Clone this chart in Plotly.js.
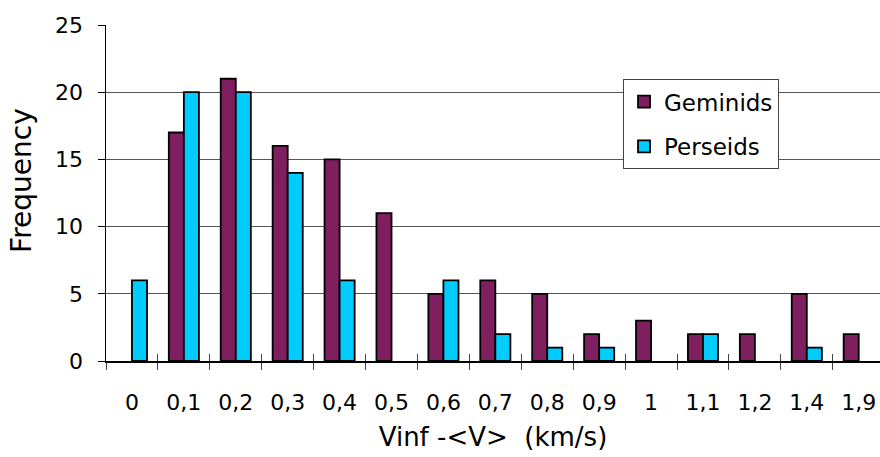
<!DOCTYPE html>
<html>
<head>
<meta charset="utf-8">
<script src="https://cdn.plot.ly/plotly-3.0.1.min.js"></script>
<style>html,body{margin:0;padding:0;background:#fff;}#chart{width:880px;height:457px;}</style>
</head>
<body>
<div id="chart"></div>
<script>
const categories = ['0','0,1','0,2','0,3','0,4','0,5','0,6','0,7','0,8','0,9','1','1,1','1,2','1,4','1,9'];
const geminids = [0,17,21,16,15,11,5,6,5,2,3,2,2,5,2];
const perseids = [6,20,20,14,6,0,6,2,1,1,0,2,0,1,0];
const seriesNames = ['Geminids','Perseids'];
const yTicks = [0,5,10,15,20,25];
const xTitle = 'Vinf -&lt;V&gt;\u00A0 (km/s)';
const yTitle = 'Frequency';

const fontFam = 'DejaVu Sans, Verdana, sans-serif';
// zero counts are not drawn as bars (no outline line on the axis)
const hideZero = v => v.map(d => d === 0 ? null : d);
const traces = [
  {type:'bar', x:categories, y:hideZero(geminids), name:seriesNames[0], legendgroup:'g',
   marker:{color:'#7F1F5F', line:{color:'#000', width:1.8}}},
  {type:'bar', x:categories, y:hideZero(perseids), name:seriesNames[1], legendgroup:'p',
   marker:{color:'#00CCFF', line:{color:'#000', width:1.8}}},
  {type:'bar', x:categories, y:categories.map(()=>null), xaxis:'x2', showlegend:false, hoverinfo:'skip'}
];
const layout = {
  width:880, height:457,
  margin:{l:106, r:0, t:25, b:96},
  paper_bgcolor:'#fff', plot_bgcolor:'#fff',
  font:{family:fontFam, color:'#000', size:22},
  barmode:'group', bargap:0.42, bargroupgap:0,
  showlegend:true,
  legend:{x:0.668, y:0.839, xanchor:'left', yanchor:'top', bgcolor:'#fff',
    bordercolor:'#444', borderwidth:1, font:{size:23, family:fontFam},
    tracegroupgap:12, traceorder:'grouped'},
  xaxis:{type:'category', categoryarray:categories, categoryorder:'array',
    range:[-0.5,14.41], showline:true, linecolor:'#000', linewidth:1.5,
    ticks:'outside', tickson:'boundaries', ticklen:7, tickcolor:'#444', tickwidth:1,
    tickfont:{size:22}, ticklabelstandoff:21, showgrid:false, zeroline:false,
    title:{text:xTitle, font:{size:26}, standoff:14}, automargin:false},
  xaxis2:{type:'category', categoryarray:categories, categoryorder:'array', overlaying:'x',
    range:[-0.5,14.41], anchor:'y', side:'bottom', showline:false, ticks:'inside', tickson:'boundaries',
    ticklen:7, tickcolor:'#444', tickwidth:1, showticklabels:false, showgrid:false, zeroline:false},
  yaxis:{range:[0,25], tickvals:yTicks, ticktext:yTicks.map(String), showline:true, linecolor:'#000', linewidth:1.5,
    ticks:'outside', ticklen:7, tickcolor:'#000', tickfont:{size:22}, ticklabelstandoff:10,
    showgrid:true, gridcolor:'#555', gridwidth:1, zeroline:false, automargin:false},
  annotations:[{text:yTitle, textangle:-90, xref:'paper', yref:'paper', x:-0.1085, y:0.536,
    xanchor:'center', yanchor:'middle', showarrow:false, font:{size:28, family:fontFam}}]
};
Plotly.newPlot('chart', traces, layout, {displayModeBar:false, staticPlot:true});
</script>
</body>
</html>
